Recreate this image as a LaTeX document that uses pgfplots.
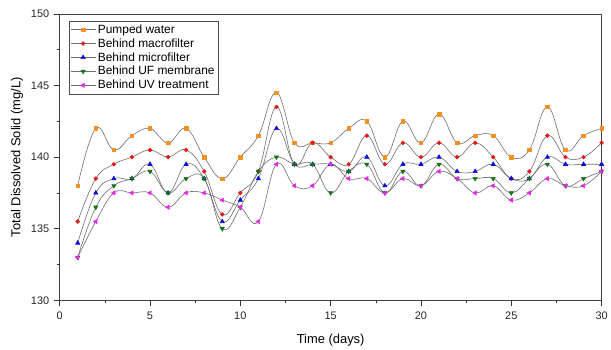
\documentclass[border=0pt]{standalone}
\usepackage{fontspec}
\setmainfont{Liberation Sans}
\usepackage{pgfplots}
\usepackage{pgfplotstable}
\pgfplotsset{compat=1.18}
\definecolor{corange}{RGB}{245,145,35}
\definecolor{cred}{RGB}{230,25,25}
\definecolor{cblue}{RGB}{10,10,220}
\definecolor{cgreen}{RGB}{20,115,20}
\definecolor{cmag}{RGB}{230,40,230}
\definecolor{cline}{RGB}{110,110,110}

\pgfplotstableread{
d pw mac mic uf uv
1 138 135.5 134 133 133
2 142 138.5 137.5 136.5 135.5
3 140.5 139.5 138.5 138 137.5
4 141.5 140 138.5 138.5 137.5
5 142 140.5 139.5 139 137.5
6 141 140 137.5 137.5 136.5
7 142 140.5 139.5 138.5 137.5
8 140 139 138.5 138.5 137.5
9 138.5 136 135.5 135 137
10 140 137.5 137 136.5 136.5
11 141.5 139 138.5 139 135.5
12 144.5 143.5 142 140 139.5
13 141 139.5 139.5 139.5 138
14 141 141 139.5 139.5 138
15 141 140 139.5 137.5 139.5
16 142 139.5 139 139 138.5
17 142.5 141.5 140 139.5 138.5
18 140 139.5 138 137.5 137.5
19 142.5 141 139.5 139 138.5
20 141 140 139.5 138 138
21 143 141 140 139.5 139
22 141 140 139 138.5 138.5
23 141.5 141 139 138.5 137.5
24 141.5 140 139.5 138.5 138
25 140 138.5 138.5 137.5 137
26 140.5 139 138.5 138.5 137.5
27 143.5 141.5 140 139.5 138.5
28 140.5 140 139.5 138 138
29 141.5 140 139.5 138.5 138
30 142 141 139.5 139 139
}\datatable

\begin{document}
\begin{tikzpicture}
\begin{axis}[
  at={(0,0)}, anchor=south west,
  scale only axis, width=545pt, height=288pt,
  xmin=0, xmax=30, ymin=130, ymax=150,
  xtick={0,5,...,30}, ytick={130,135,...,150},
  minor x tick num=1, minor y tick num=1,
  tick align=outside, xtick pos=bottom, ytick pos=left,
  major tick length=6pt, minor tick length=3pt,
  tick style={black!80, line width=0.6pt},
  axis line style={black!75, line width=0.8pt},
  tick label style={font=\fontsize{11}{13}\selectfont, text=black!85},
  xticklabel style={yshift=-2pt},
  yticklabel style={xshift=-1pt},
  label style={font=\fontsize{13}{15}\selectfont},
  xlabel={Time (days)}, ylabel={Total Dissolved Solid (mg/L)},
  xlabel style={yshift=-8pt},
  ylabel style={yshift=1pt},
  /pgf/number format/assume math mode=true,
  every axis plot/.append style={smooth, tension=0.7, draw=cline, line width=0.6pt},
  legend style={at={(axis description cs:0.0165,0.976)}, anchor=north west,
    draw=black!70, line width=0.6pt, font=\fontsize{12}{13}\selectfont,
    inner sep=1.5pt, row sep=-0.2pt, cells={anchor=west}},
  legend cell align=left,
  legend image code/.code={\draw[mark repeat=2,mark phase=2] plot coordinates {(0pt,0pt)(12.5pt,0pt)(25pt,0pt)};},
]
\addplot[mark=square*, mark size=1.8pt, mark options={fill=corange, draw=corange}] table[x=d,y=pw]{\datatable};
\addlegendentry{Pumped water}
\addplot[mark=*, mark size=1.9pt, mark options={fill=cred, draw=cred}] table[x=d,y=mac]{\datatable};
\addlegendentry{Behind macrofilter}
\addplot[mark=triangle*, mark size=2.4pt, mark options={fill=cblue, draw=cblue}] table[x=d,y=mic]{\datatable};
\addlegendentry{Behind microfilter}
\addplot[mark=triangle*, mark size=2.4pt, mark options={fill=cgreen, draw=cgreen, rotate=180}] table[x=d,y=uf]{\datatable};
\addlegendentry{Behind UF membrane}
\addplot[mark=triangle*, mark size=2.4pt, mark options={fill=cmag, draw=cmag, rotate=90}] table[x=d,y=uv]{\datatable};
\addlegendentry{Behind UV treatment}
\end{axis}
\path (-60pt,-48pt) rectangle (551pt,302pt);
\end{tikzpicture}
\end{document}
